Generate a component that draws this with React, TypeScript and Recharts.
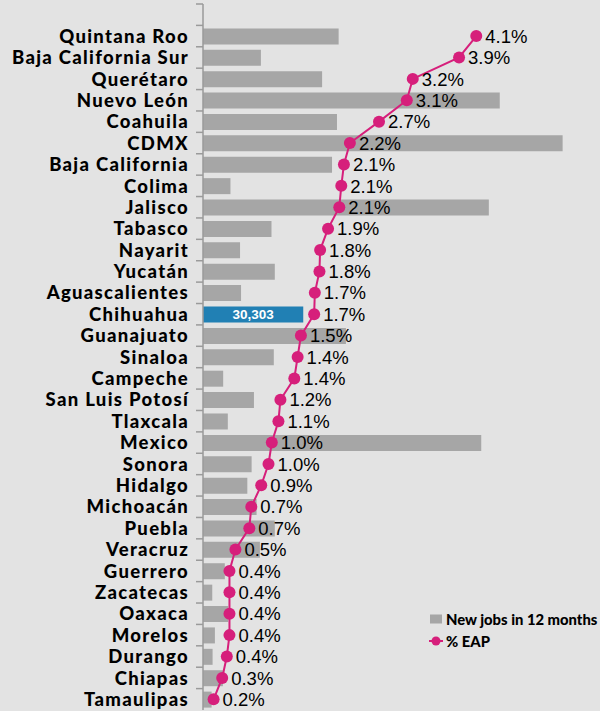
import { ComposedChart, Bar, Line, XAxis, YAxis, Cell, LabelList } from "recharts";

// first entry is an empty band at the top of the axis
const states = [
  "",
  "Quintana Roo",
  "Baja California Sur",
  "Querétaro",
  "Nuevo León",
  "Coahuila",
  "CDMX",
  "Baja California",
  "Colima",
  "Jalisco",
  "Tabasco",
  "Nayarit",
  "Yucatán",
  "Aguascalientes",
  "Chihuahua",
  "Guanajuato",
  "Sinaloa",
  "Campeche",
  "San Luis Potosí",
  "Tlaxcala",
  "Mexico",
  "Sonora",
  "Hidalgo",
  "Michoacán",
  "Puebla",
  "Veracruz",
  "Guerrero",
  "Zacatecas",
  "Oaxaca",
  "Morelos",
  "Durango",
  "Chiapas",
  "Tamaulipas",
];

const newJobs = [
  null, 41000, 17500, 36000, 89700, 40500, 108700, 39000, 8300, 86400, 20700,
  11200, 21700, 11500, 30303, 43200, 21400, 6100, 15400, 7500, 84100, 14700,
  13400, 16200, 21700, 17200, 6600, 2800, 7600, 3600, 2900, 6000, 2600,
];

const pctEap = [
  null, 4.13, 3.87, 3.17, 3.08, 2.66, 2.22, 2.13, 2.09, 2.06, 1.89, 1.77, 1.76,
  1.69, 1.68, 1.48, 1.43, 1.38, 1.17, 1.14, 1.04, 0.99, 0.88, 0.73, 0.7, 0.49,
  0.4, 0.4, 0.4, 0.4, 0.36, 0.29, 0.16,
];

const highlight = "Chihuahua";
const seriesNames = ["New jobs in 12 months", "% EAP"];

const data = states.map((name, i) => ({
  name,
  jobs: newJobs[i],
  pct: pctEap[i],
  hl: name === highlight ? newJobs[i] : null,
}));

const W = 600;
const H = 711;
const M = { top: 4, right: 0, bottom: 1, left: 0 };
const band = (H - M.top - M.bottom) / states.length;

const BG = "#e3e3e3";
const GREY = "#a6a6a6";
const BLUE = "#2180b4";
const PINK = "#d61f7b";
const AXIS = "#9a9a9a";

const StateTick = ({ x, y, payload }: any) => (
  <g>
    <line x1={x - 7} x2={x} y1={y - band / 2} y2={y - band / 2} stroke={AXIS} strokeWidth={1.5} />
    <text
      x={x - 14}
      y={y}
      dy="0.36em"
      textAnchor="end"
      fill="#000"
      fontFamily="Lato"
      fontWeight={900}
      fontSize={18.5}
      letterSpacing={1.3}
    >
      {payload.value}
    </text>
  </g>
);

const PctLabel = ({ x, y, value }: any) => {
  if (value == null) return null;
  return (
    <text x={x + 9} y={y} dy="0.36em" fill="#000" fontFamily="Liberation Sans" fontSize={18.5}>
      {`${Number(value).toFixed(1)}%`}
    </text>
  );
};

const JobsLabel = ({ x, y, width, height, value }: any) => {
  if (value == null) return null;
  return (
    <text
      x={x + width / 2}
      y={y + height / 2}
      dy="0.36em"
      textAnchor="middle"
      fill="#fff"
      fontFamily="Liberation Sans"
      fontWeight={700}
      fontSize={13.5}
    >
      {Number(value).toLocaleString("en-US")}
    </text>
  );
};

const LegendBox = () => (
  <div
    style={{
      position: "absolute",
      left: 428,
      top: 608,
      fontFamily: "Lato",
      fontWeight: 900,
      fontSize: 14.8,
      color: "#000",
      whiteSpace: "nowrap",
    }}
  >
    <div style={{ display: "flex", alignItems: "center", height: 22 }}>
      <svg width={18} height={12}>
        <rect x={2} y={1.5} width={12} height={9} fill={GREY} />
      </svg>
      <span>{seriesNames[0]}</span>
    </div>
    <div style={{ display: "flex", alignItems: "center", height: 22 }}>
      <svg width={18} height={12}>
        <line x1={1} x2={15} y1={6} y2={6} stroke={PINK} strokeWidth={2} />
        <circle cx={8} cy={6} r={4.5} fill={PINK} />
      </svg>
      <span>{seriesNames[1]}</span>
    </div>
  </div>
);

export default function App() {
  return (
    <div style={{ position: "absolute", left: 0, top: 0, width: W, height: H, background: BG }}>
      <ComposedChart width={W} height={H} data={data} layout="vertical" margin={M} barSize={16}>
        <XAxis xAxisId="jobs" type="number" domain={[0, 120000]} hide />
        <XAxis xAxisId="pct" type="number" domain={[0, 6]} hide />
        <YAxis
          type="category"
          dataKey="name"
          width={203}
          tickSize={0}
          tickMargin={0}
          tickLine={false}
          axisLine={{ stroke: AXIS, strokeWidth: 1.5 }}
          tick={<StateTick />}
          interval={0}
        />
        <Bar xAxisId="jobs" dataKey="jobs" name={seriesNames[0]} fill={GREY} isAnimationActive={false}>
          {data.map((d) => (
            <Cell key={d.name} fill={d.name === highlight ? BLUE : GREY} />
          ))}
          <LabelList dataKey="hl" content={<JobsLabel />} />
        </Bar>
        <Line
          xAxisId="pct"
          dataKey="pct"
          name={seriesNames[1]}
          stroke={PINK}
          strokeWidth={2}
          dot={{ r: 6, fill: PINK, stroke: PINK, strokeWidth: 0 }}
          isAnimationActive={false}
        >
          <LabelList dataKey="pct" content={<PctLabel />} />
        </Line>
      </ComposedChart>
      <LegendBox />
    </div>
  );
}
